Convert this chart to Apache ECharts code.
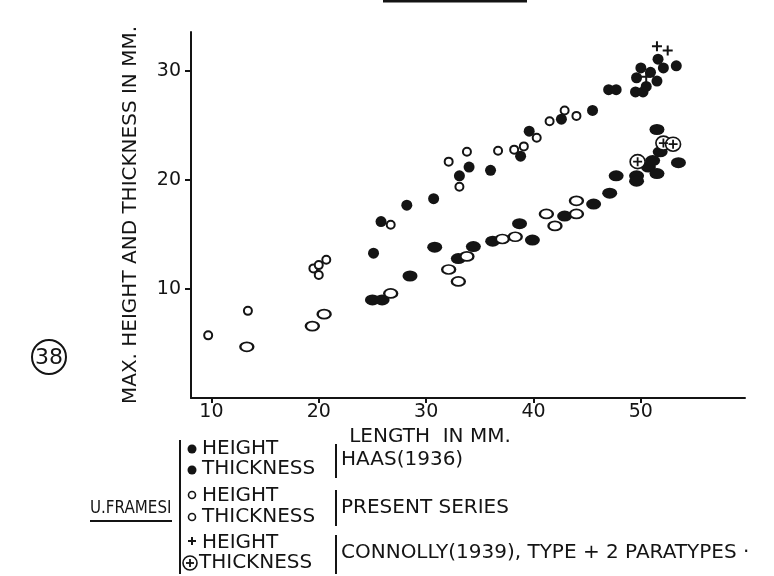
<!DOCTYPE html>
<html>
<head>
<meta charset="utf-8">
<script src="https://cdn.jsdelivr.net/npm/echarts@6/dist/echarts.min.js"></script>
<style>
html,body{margin:0;padding:0;background:#fff;}
#chart{width:774px;height:576px;}
</style>
</head>
<body>
<div id="chart"></div>
<script>
// ---- data (length mm, value mm) ----
var xTicks = [10, 20, 30, 40, 50];
var yTicks = [10, 20, 30];

var haasHeight = [
  [25.1,13.3],[25.8,16.2],[28.2,17.7],[30.7,18.3],[33.1,20.4],[34.0,21.2],[36.0,20.9],
  [38.8,22.2],[39.6,24.5],[42.6,25.6],[45.5,26.4],[47.0,28.3],[47.7,28.3],[49.5,28.1],
  [50.2,28.1],[50.5,28.6],[51.5,29.1],[49.6,29.4],[50.0,30.3],[50.9,29.9],[52.1,30.3],
  [53.3,30.5],[51.6,31.1]
];
var haasThickness = [
  [25.0,9.0],[25.9,9.0],[28.5,11.2],[30.8,13.85],[33.0,12.8],[34.4,13.9],[36.2,14.4],
  [38.7,16.0],[39.9,14.5],[42.9,16.7],[45.6,17.8],[47.1,18.8],[47.7,20.4],[49.6,20.4],
  [49.6,19.9],[50.7,21.2],[51.1,21.8],[51.8,22.6],[51.5,20.6],[53.5,21.6],[51.5,24.65]
];
var presentHeight = [
  [9.7,5.75],[13.4,8.0],[19.5,11.9],[20.0,12.2],[20.7,12.7],[20.0,11.3],[26.7,15.9],
  [32.1,21.7],[33.8,22.6],[33.1,19.4],[36.7,22.7],[38.2,22.8],[39.1,23.1],[40.3,23.9],
  [41.5,25.4],[42.9,26.4],[44.0,25.9]
];
var presentThickness = [
  [13.3,4.7],[19.4,6.6],[20.5,7.7],[26.7,9.6],[32.1,11.8],[33.0,10.7],[33.8,13.0],
  [37.1,14.6],[38.3,14.8],[41.2,16.9],[42.0,15.8],[44.0,16.9],[44.0,18.1]
];
var connollyHeight = [[51.5,32.3],[52.5,31.9],[50.5,29.5]];
var connollyThickness = [[49.7,21.7],[52.1,23.4],[53.0,23.3]];

var INK = '#141414';
var FONT = 'DejaVu Sans';
var PLUS = 'path://M4,0H6V4H10V6H6V10H4V6H0V4H4Z';

var chart = echarts.init(document.getElementById('chart'), null, {renderer:'canvas'});

function txt(x, y, s, size, align) {
  return {type:'text', x:x, y:y, style:{text:s, fill:INK, font:(size||20)+'px "'+FONT+'"', textAlign:align||'left', textVerticalAlign:'middle'}};
}
function vbar(x, y1, y2) {
  return {type:'line', shape:{x1:x,y1:y1,x2:x,y2:y2}, style:{stroke:INK, lineWidth:2}};
}

var LB = 180;   // main legend bar
var DX = 192;   // marker column
var TX = 202;   // label column
var B2 = 336;   // source bars
var RX = 341;   // source text

var framesi = txt(0, 0, 'U.FRAMESI', 18, 'left');
framesi.x = 90; framesi.y = 508; framesi.scaleX = 0.84;

var graphics = [
  // circled figure number
  {type:'circle', shape:{cx:49, cy:357, r:17}, style:{fill:'none', stroke:INK, lineWidth:2}},
  txt(49, 358, '38', 22, 'center'),
  // cut-off title underline at top
  {type:'line', shape:{x1:383,y1:1,x2:527,y2:1}, style:{stroke:INK, lineWidth:3}},
  // species name
  framesi,
  {type:'line', shape:{x1:90,y1:521,x2:172,y2:521}, style:{stroke:INK, lineWidth:2}},
  vbar(LB, 440, 574),
  // Haas
  {type:'circle', shape:{cx:DX, cy:449, r:4.5}, style:{fill:INK}},
  txt(TX, 449, 'HEIGHT'),
  {type:'circle', shape:{cx:DX, cy:470, r:4.5}, style:{fill:INK}},
  txt(TX, 469, 'THICKNESS'),
  vbar(B2, 444, 478),
  txt(RX, 460, 'HAAS(1936)'),
  // Present
  {type:'circle', shape:{cx:DX, cy:495, r:3.5}, style:{fill:'#fff', stroke:INK, lineWidth:1.6}},
  txt(TX, 496, 'HEIGHT'),
  {type:'circle', shape:{cx:DX, cy:517, r:3.5}, style:{fill:'#fff', stroke:INK, lineWidth:1.6}},
  txt(TX, 517, 'THICKNESS'),
  vbar(B2, 490, 526),
  txt(RX, 508, 'PRESENT SERIES'),
  // Connolly
  {type:'line', shape:{x1:DX-4,y1:541,x2:DX+4,y2:541}, style:{stroke:INK, lineWidth:2}},
  {type:'line', shape:{x1:DX,y1:537,x2:DX,y2:545}, style:{stroke:INK, lineWidth:2}},
  txt(TX, 543, 'HEIGHT'),
  {type:'circle', shape:{cx:DX-2, cy:563, r:7}, style:{fill:'#fff', stroke:INK, lineWidth:1.6}},
  {type:'line', shape:{x1:DX-6,y1:563,x2:DX+2,y2:563}, style:{stroke:INK, lineWidth:1.8}},
  {type:'line', shape:{x1:DX-2,y1:559,x2:DX-2,y2:567}, style:{stroke:INK, lineWidth:1.8}},
  txt(TX-3, 563, 'THICKNESS'),
  vbar(B2, 535, 574),
  txt(RX, 553, 'CONNOLLY(1939), TYPE + 2 PARATYPES ·')
];

var option = {
  backgroundColor:'#fff',
  animation:false,
  grid:{left:191, top:32, right:29, bottom:178},
  xAxis:{
    type:'value', min:8.1, max:59.7,
    name:'LENGTH  IN MM.', nameLocation:'middle', nameGap:20,
    nameTextStyle:{color:INK, fontFamily:FONT, fontSize:20, padding:[0,76,0,0]},
    axisLine:{show:true, lineStyle:{color:INK, width:2}},
    axisTick:{show:true, customValues:xTicks, length:5, lineStyle:{color:INK, width:2}},
    axisLabel:{customValues:xTicks, color:INK, fontFamily:FONT, fontSize:19, margin:5},
    splitLine:{show:false}
  },
  yAxis:{
    type:'value', min:0, max:33.6,
    name:'MAX. HEIGHT AND THICKNESS IN MM.', nameLocation:'middle', nameGap:50,
    nameTextStyle:{color:INK, fontFamily:FONT, fontSize:20},
    axisLine:{show:true, lineStyle:{color:INK, width:2}},
    axisTick:{show:true, customValues:yTicks, length:6, lineStyle:{color:INK, width:2}},
    axisLabel:{customValues:yTicks, color:INK, fontFamily:FONT, fontSize:19, margin:10},
    splitLine:{show:false}
  },
  graphic:graphics,
  series:[
    {name:'Haas height', type:'scatter', data:haasHeight, symbol:'circle', symbolSize:11,
      itemStyle:{color:INK, opacity:1}},
    {name:'Haas thickness', type:'scatter', data:haasThickness, symbol:'circle', symbolSize:[15,11],
      itemStyle:{color:INK, opacity:1}},
    {name:'Present height', type:'scatter', data:presentHeight, symbol:'circle', symbolSize:8,
      itemStyle:{color:'#fff', borderColor:INK, borderWidth:2, opacity:1}},
    {name:'Present thickness', type:'scatter', data:presentThickness, symbol:'circle', symbolSize:[13,9],
      itemStyle:{color:'#fff', borderColor:INK, borderWidth:2, opacity:1}},
    {name:'Connolly height', type:'scatter', data:connollyHeight, symbol:PLUS, symbolSize:10,
      itemStyle:{color:INK, opacity:1}},
    {name:'Connolly thickness', type:'scatter', data:connollyThickness, symbol:'circle', symbolSize:[15,14],
      itemStyle:{color:'#fff', borderColor:INK, borderWidth:1.6, opacity:1}},
    {name:'Connolly thickness cross', type:'scatter', data:connollyThickness, symbol:PLUS, symbolSize:9,
      itemStyle:{color:INK, opacity:1}}
  ]
};
chart.setOption(option);
</script>
</body>
</html>
